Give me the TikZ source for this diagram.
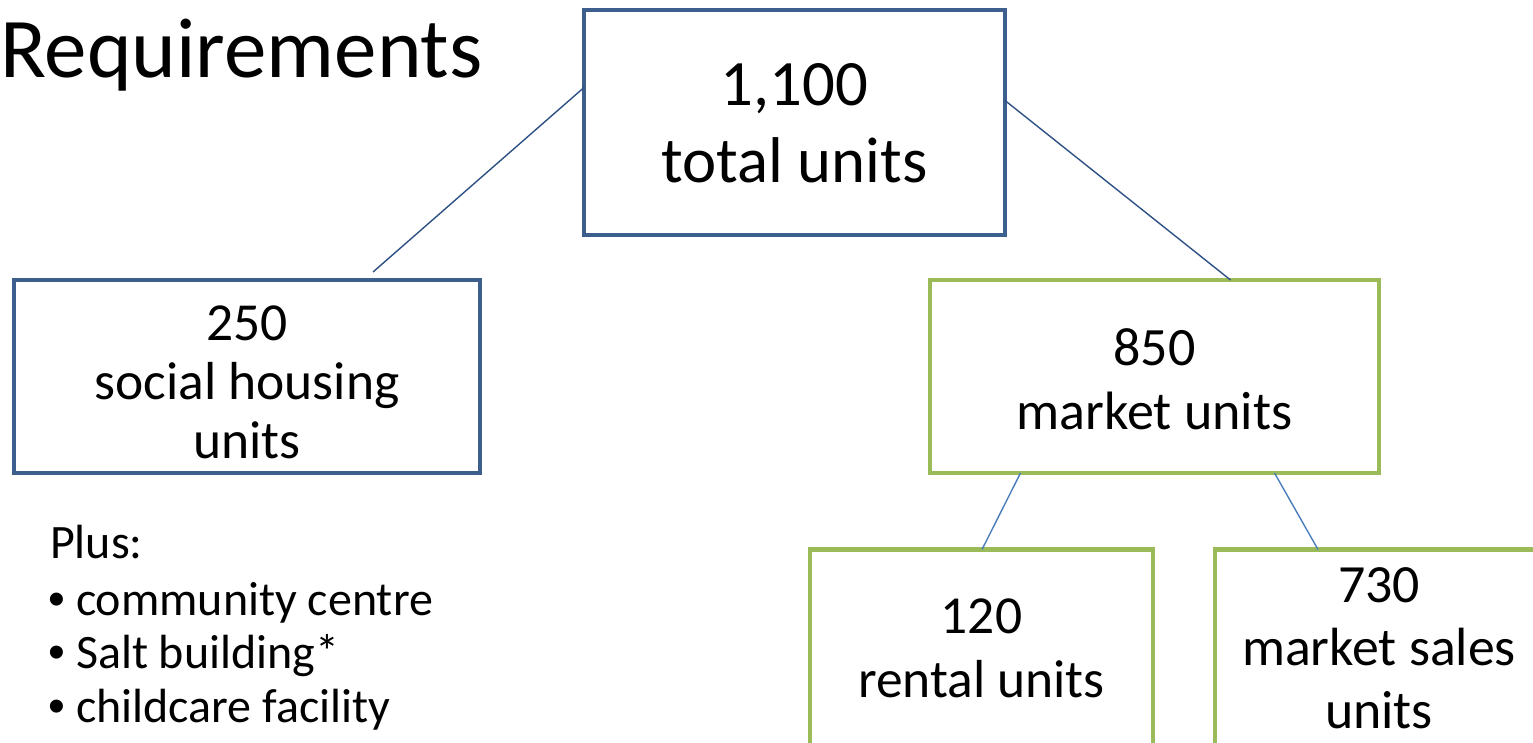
\documentclass[tikz,border=0pt]{standalone}
\usepackage{fontspec}
\setmainfont{Carlito}
\newfontfamily\bulletfont{Liberation Sans}
\definecolor{boxblue}{HTML}{3C5F8E}
\definecolor{boxgreen}{HTML}{9BBB59}
\definecolor{linkdark}{HTML}{2E5185}
\definecolor{linklight}{HTML}{4A7EBB}
\newcommand{\blt}{\makebox[28pt][l]{\bulletfont •}}
\begin{document}
\begin{tikzpicture}[x=1pt,y=-1pt,
  box/.style={rectangle, line width=4.5pt, inner sep=0pt, outer sep=0pt, fill=white},
  bluebox/.style={box, draw=boxblue},
  greenbox/.style={box, draw=boxgreen},
  txt/.style={inner sep=0pt, outer sep=0pt, align=center, anchor=north},
  conntop/.style={draw=linkdark, line width=1.4pt},
  connlow/.style={draw=linklight, line width=1.4pt},
  listtxt/.style={inner sep=0pt, outer sep=0pt, anchor=base west, font=\fontsize{48}{54}\selectfont}]
\useasboundingbox (0,0) rectangle (1533,743);

\node[anchor=base west, inner sep=0pt, font=\fontsize{85}{100}\selectfont] (title) at (0,78) {Requirements};

\node[bluebox, minimum width=421pt, minimum height=225pt] (top) at (794.5,122.5) {};
\node[bluebox, minimum width=466pt, minimum height=193pt] (left) at (247,376.5) {};
\node[greenbox, minimum width=449pt, minimum height=193pt] (market) at (1154.5,376.5) {};
\node[greenbox, minimum width=343pt, minimum height=250pt] (rental) at (981.5,674.5) {};
\node[greenbox, minimum width=331pt, minimum height=250pt] (sales) at (1380.5,674.5) {};

\node[txt, font=\fontsize{64.7}{77}\selectfont] (ttop) at (794.5,64) {1,100\\total units};
\node[txt, font=\fontsize{53.5}{59}\selectfont] (tleft) at (247,306) {250\\social housing\\units};
\node[txt, font=\fontsize{54}{64}\selectfont] (tmarket) at (1154.5,329) {850\\market units};
\node[txt, font=\fontsize{53.5}{64}\selectfont] (trental) at (981.5,599) {120\\rental units};
\node[txt, font=\fontsize{53.8}{63}\selectfont] (tsales) at (1379,568) {730\\market sales\\units};

\draw[conntop] ([yshift=35pt]top.west) -- ([xshift=126pt,yshift=8pt]left.north);
\draw[conntop] ([yshift=22pt]top.east) -- ([xshift=76pt]market.north);
\draw[connlow] ([xshift=-134pt]market.south) -- ([xshift=0.5pt]rental.north);
\draw[connlow] ([xshift=120pt]market.south) -- ([xshift=-62.5pt]sales.north);

\node[listtxt] (plus) at (50,558) {Plus:};
\node[listtxt] (b1) at (48,615) {\blt community centre};
\node[listtxt] (b2) at (48,668) {\blt Salt building*};
\node[listtxt] (b3) at (48,722) {\blt childcare facility};
\end{tikzpicture}
\end{document}
